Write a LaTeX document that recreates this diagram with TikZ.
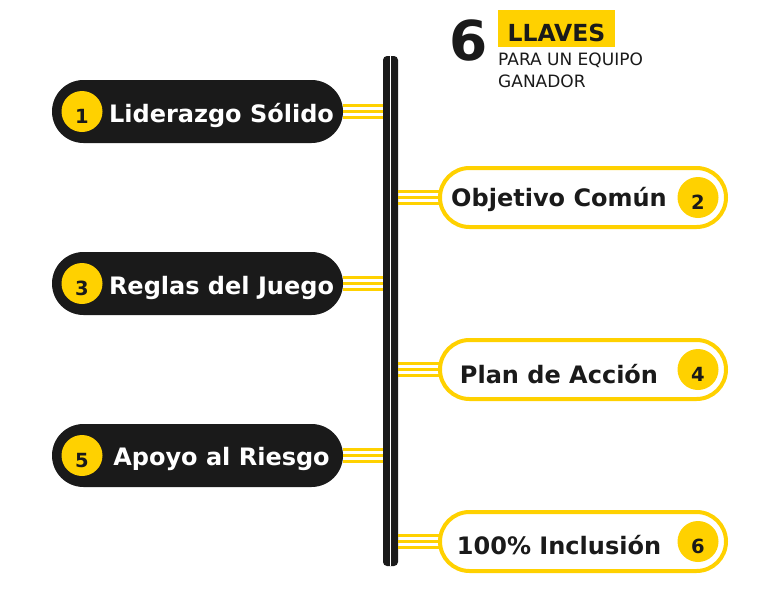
\documentclass[tikz,border=0pt]{standalone}
\usepackage{fontspec}
\setmainfont{DejaVu Sans}
\definecolor{ink}{HTML}{1A1A1A}
\definecolor{gold}{HTML}{FFD100}
\begin{document}
\begin{tikzpicture}[x=1pt,y=-1pt,
  darkpill/.style={fill=ink, rounded corners=31.5pt, minimum width=291pt, minimum height=63pt, inner sep=0pt},
  lightpill/.style={draw=gold, line width=4pt, rounded corners=29.5pt, minimum width=286pt, minimum height=59pt, inner sep=0pt},
  numdot/.style={circle, fill=gold, minimum size=41pt, inner sep=0pt},
  numtxt/.style={anchor=base, inner sep=0pt, text=ink, font=\bfseries\fontsize{19.5}{19.5}\selectfont},
  lefttxt/.style={anchor=base, inner sep=0pt, text=white, font=\bfseries\fontsize{24}{24}\selectfont},
  righttxt/.style={anchor=base, inner sep=0pt, text=ink, font=\bfseries\fontsize{24}{24}\selectfont},
  link/.style={draw=gold, line width=3pt},
  spine/.style={fill=ink, rounded corners=4pt, minimum width=15pt, minimum height=510pt, inner sep=0pt}
]
\useasboundingbox[fill=white] (0,0) rectangle (780,600);

% spine
\node[spine] (bar) at (390.5,311) {};
\draw[white, line width=1.2pt] (bar.north) -- (bar.south);

% header
\node[anchor=base west, inner sep=0pt, text=ink, font=\bfseries\fontsize{55}{55}\selectfont] (six) at (449,60.5) {6};
\node[fill=gold, minimum width=117pt, minimum height=37pt, inner sep=0pt] (llbox) at (556.5,28.5) {};
\node[anchor=base, inner sep=0pt, text=ink, font=\bfseries\fontsize{23.5}{23.5}\selectfont] (ll) at (556.5,41.5) {LLAVES};
\node[anchor=base west, inner sep=0pt, text=ink, font=\fontsize{17}{17}\selectfont] (sub1) at (498,65.7) {PARA UN EQUIPO};
\node[anchor=base west, inner sep=0pt, text=ink, font=\fontsize{17}{17}\selectfont] (sub2) at (498,87.3) {GANADOR};

% left items
\foreach \n/\y/\b/\t in {1/111.5/122/Liderazgo Sólido, 3/283.5/294/Reglas del Juego, 5/455.5/465/Apoyo al Riesgo}{
  \node[darkpill] (p\n) at (197.5,\y) {};
  \node[numdot] (c\n) at (82,\y) {};
  \node[numtxt] (n\n) at (82,\y+11.5) {\n};
  \node[lefttxt] (t\n) at (221.5,\b) {\t};
  \foreach \d in {-6,0,6}{
    \draw[link] ([yshift=\d]p\n.east) -- ([yshift=\d]bar.west |- p\n.east);
  }
}

% right items
\foreach \n/\y/\b/\t in {2/197.5/206/Objetivo Común, 4/369.5/383/Plan de Acción, 6/541.5/554.5/100\% Inclusión}{
  \node[numdot] (c\n) at (698,\y) {};
  \node[numtxt] (n\n) at (698,\y+11.5) {\n};
  \node[righttxt] (t\n) at (559,\b) {\t};
}
\foreach \n in {2,4,6}{
  \foreach \d in {-6,0,6}{
    \draw[link] ([yshift=\d]bar.east |- c\n.center) -- ([yshift=\d]440,0 |- c\n.center);
  }
}
\foreach \n/\y in {2/197.5,4/369.5,6/541.5}{
  \node[lightpill] (p\n) at (583,\y) {};
}
\end{tikzpicture}
\end{document}
